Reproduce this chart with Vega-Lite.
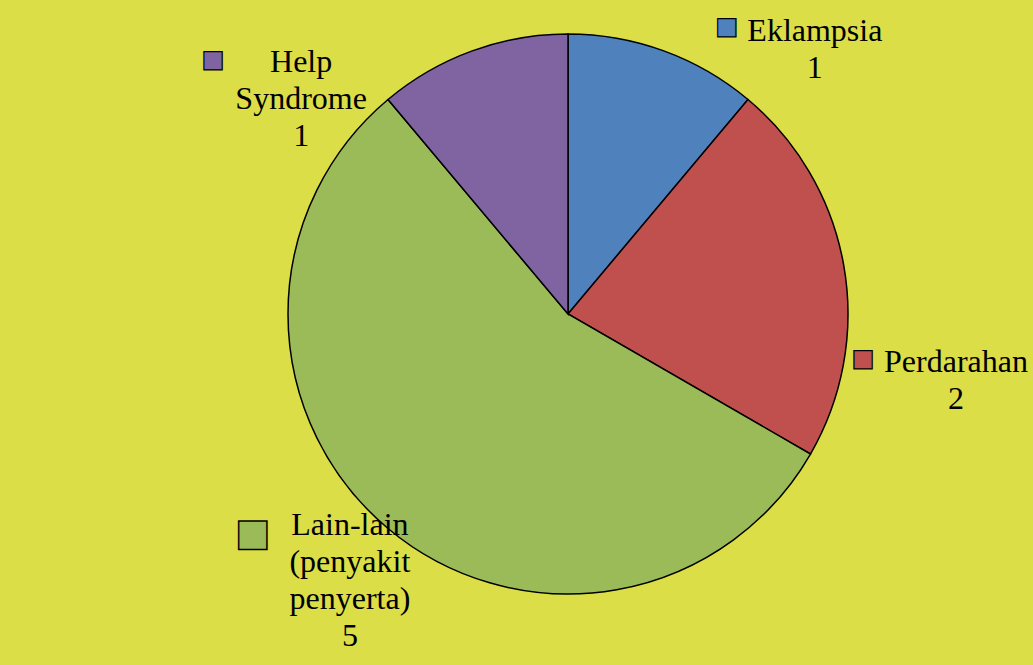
{
  "$schema": "https://vega.github.io/schema/vega-lite/v6.json",
  "width": 930,
  "height": 628,
  "autosize": {"type": "none"},
  "padding": {"left": 103, "top": 0, "right": 0, "bottom": 37},
  "background": "#DBDE46",
  "config": {"view": {"stroke": null}},
  "data": {
    "values": [
      {"name": "Eklampsia", "label": "Eklampsia", "value": 1, "rank": 1},
      {"name": "Perdarahan", "label": "Perdarahan", "value": 2, "rank": 2},
      {"name": "Lain-lain (penyakit penyerta)", "label": "Lain-lain\n(penyakit\npenyerta)", "value": 5, "rank": 3},
      {"name": "Help Syndrome", "label": "Help\nSyndrome", "value": 1, "rank": 4}
    ]
  },
  "transform": [
    {"calculate": "datum.label + '\\n' + datum.value", "as": "lbl"}
  ],
  "encoding": {
    "theta": {"field": "value", "type": "quantitative", "stack": true},
    "order": {"field": "rank", "type": "quantitative"},
    "color": {
      "field": "name",
      "type": "nominal",
      "legend": null,
      "scale": {
        "domain": ["Eklampsia", "Perdarahan", "Lain-lain (penyakit penyerta)", "Help Syndrome"],
        "range": ["#4F81BD", "#C0504D", "#9BBB59", "#8064A2"]
      }
    }
  },
  "layer": [
    {
      "mark": {"type": "arc", "outerRadius": 280, "stroke": "#000000", "strokeWidth": 1.5}
    },
    {
      "mark": {"type": "text", "radius": 330, "dx": 134, "dy": 27, "font": "Liberation Serif", "fontSize": 32, "lineHeight": 37, "lineBreak": "\n", "align": "center", "baseline": "middle"},
      "encoding": {
        "color": {"value": "#000000"},
        "detail": {"field": "name"},
        "text": {"condition": {"test": "datum.name === 'Eklampsia'", "field": "lbl", "type": "nominal"}, "value": ""}
      }
    },
    {
      "mark": {"type": "text", "radius": 330, "dx": 63, "dy": 105, "font": "Liberation Serif", "fontSize": 32, "lineHeight": 37, "lineBreak": "\n", "align": "center", "baseline": "middle"},
      "encoding": {
        "color": {"value": "#000000"},
        "detail": {"field": "name"},
        "text": {"condition": {"test": "datum.name === 'Perdarahan'", "field": "lbl", "type": "nominal"}, "value": ""}
      }
    },
    {
      "mark": {"type": "text", "radius": 330, "dx": -6, "dy": -42, "font": "Liberation Serif", "fontSize": 32, "lineHeight": 37, "lineBreak": "\n", "align": "center", "baseline": "middle"},
      "encoding": {
        "color": {"value": "#000000"},
        "detail": {"field": "name"},
        "text": {"condition": {"test": "datum.rank === 3", "field": "lbl", "type": "nominal"}, "value": ""}
      }
    },
    {
      "mark": {"type": "text", "radius": 330, "dx": -154, "dy": 58, "font": "Liberation Serif", "fontSize": 32, "lineHeight": 37, "lineBreak": "\n", "align": "center", "baseline": "middle"},
      "encoding": {
        "color": {"value": "#000000"},
        "detail": {"field": "name"},
        "text": {"condition": {"test": "datum.name === 'Help Syndrome'", "field": "lbl", "type": "nominal"}, "value": ""}
      }
    },
    {
      "mark": {"type": "text", "radius": 330, "dx": 46, "dy": 23, "font": "DejaVu Sans", "fontSize": 24, "align": "center", "baseline": "middle", "stroke": "#000000", "strokeWidth": 1.2},
      "encoding": {
        "text": {"condition": {"test": "datum.name === 'Eklampsia'", "value": "■"}, "value": ""}
      }
    },
    {
      "mark": {"type": "text", "radius": 330, "dx": -30, "dy": 102, "font": "DejaVu Sans", "fontSize": 24, "align": "center", "baseline": "middle", "stroke": "#000000", "strokeWidth": 1.2},
      "encoding": {
        "text": {"condition": {"test": "datum.name === 'Perdarahan'", "value": "■"}, "value": ""}
      }
    },
    {
      "mark": {"type": "text", "radius": 330, "dx": -103, "dy": -33, "font": "DejaVu Sans", "fontSize": 37, "align": "center", "baseline": "middle", "stroke": "#000000", "strokeWidth": 1.5},
      "encoding": {
        "text": {"condition": {"test": "datum.rank === 3", "value": "■"}, "value": ""}
      }
    },
    {
      "mark": {"type": "text", "radius": 330, "dx": -242, "dy": 56, "font": "DejaVu Sans", "fontSize": 24, "align": "center", "baseline": "middle", "stroke": "#000000", "strokeWidth": 1.2},
      "encoding": {
        "text": {"condition": {"test": "datum.name === 'Help Syndrome'", "value": "■"}, "value": ""}
      }
    }
  ]
}
